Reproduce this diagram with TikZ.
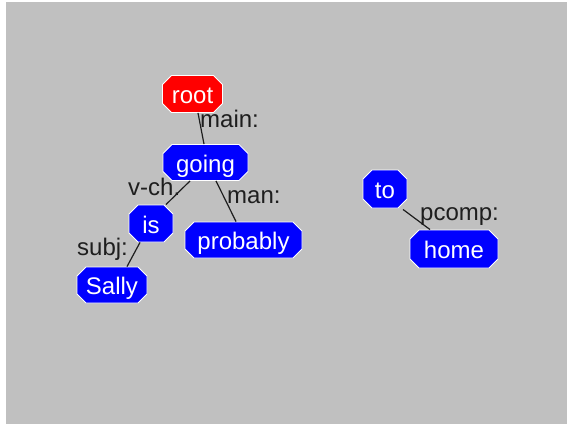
\documentclass[tikz,border=0pt]{standalone}
\usepackage{fontspec}
\setmainfont{Liberation Sans}
\usetikzlibrary{shapes.misc}
\definecolor{bg}{HTML}{C0C0C0}
\definecolor{nodeblue}{HTML}{0000FF}
\definecolor{nodered}{HTML}{FF0000}
\definecolor{labelink}{HTML}{1E1E1E}
\tikzset{
  word/.style={chamfered rectangle, chamfered rectangle xsep=4.5pt, chamfered rectangle ysep=4.5pt,
    fill=nodeblue, draw=white, line width=0.9pt, text=white, inner sep=0pt,
    font=\fontsize{24}{28}\selectfont, text height=19pt, text depth=-1pt},
  rootword/.style={word, fill=nodered},
  deplabel/.style={anchor=base west, inner sep=0pt, text=labelink, font=\fontsize{24}{28}\selectfont},
  dep/.style={draw=labelink, line width=1.2pt}
}
\begin{document}
\begin{tikzpicture}[x=1pt,y=-1pt]
\useasboundingbox (0,0) rectangle (567,425);
\fill[white] (0,0) rectangle (567,425);
\fill[bg] (6,2) rectangle (567,424);

\node[rootword, minimum width=60pt, minimum height=37pt] (root) at (192.5,94) {root};
\node[word, minimum width=85pt, minimum height=36pt] (going) at (205.5,162.5) {going};
\node[word, minimum width=44pt, minimum height=37pt] (is) at (151,223.5) {is};
\node[word, minimum width=117pt, minimum height=36pt] (probably) at (243.5,240) {probably};
\node[word, minimum width=70pt, minimum height=36pt] (sally) at (112,285) {Sally};
\node[word, minimum width=44pt, minimum height=38pt] (to) at (385,189) {to};
\node[word, minimum width=88pt, minimum height=38pt] (home) at (454,249) {home};

\draw[dep] ([xshift=5.5pt]root.south) -- ([xshift=-1.5pt]going.north);
\draw[dep] ([xshift=-15.5pt]going.south) -- ([xshift=15pt]is.north);
\draw[dep] ([xshift=10.5pt]going.south) -- ([xshift=-7.5pt]probably.north);
\draw[dep] ([xshift=-11pt]is.south) -- ([xshift=15pt]sally.north);
\draw[dep] ([xshift=18pt,yshift=-1pt]to.south) -- ([xshift=-24pt]home.north);

\node[deplabel] (lmain) at (200,128) {main:};
\node[deplabel] (lvch) at (128,195) {v-ch.};
\node[deplabel] (lman) at (227,203) {man:};
\node[deplabel] (lsubj) at (77,255) {subj:};
\node[deplabel] (lpcomp) at (420,220) {pcomp:};
\end{tikzpicture}
\end{document}
